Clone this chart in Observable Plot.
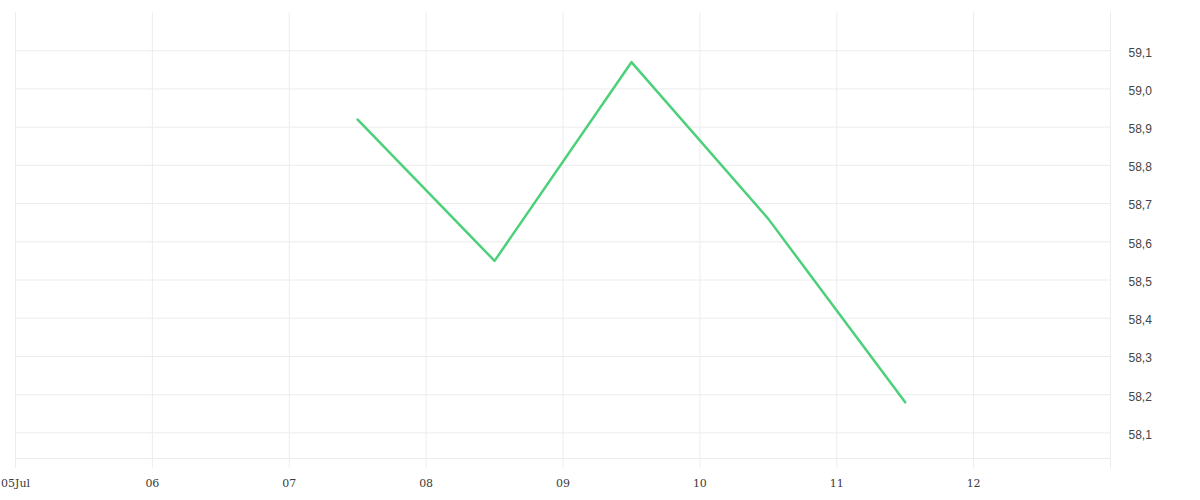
<!DOCTYPE html>
<html>
<head>
<meta charset="utf-8">
<script src="https://cdn.jsdelivr.net/npm/d3@7"></script>
<script src="https://cdn.jsdelivr.net/npm/@observablehq/plot@0.6"></script>
<style>
  html, body { margin: 0; padding: 0; background: #fff; }
  #chart svg { display: block; }
</style>
</head>
<body>
<div id="chart"></div>
<script>
// Data
const dates = ["2023-07-07T12:00Z", "2023-07-08T12:00Z", "2023-07-09T12:00Z", "2023-07-10T12:00Z", "2023-07-11T12:00Z"];
const values = [58.92, 58.55, 59.07, 58.66, 58.18];
const dayTicks = ["2023-07-05", "2023-07-06", "2023-07-07", "2023-07-08", "2023-07-09", "2023-07-10", "2023-07-11", "2023-07-12", "2023-07-13"];
const dayLabels = ["05Jul", "06", "07", "08", "09", "10", "11", "12", ""];
const yTicks = [58.1, 58.2, 58.3, 58.4, 58.5, 58.6, 58.7, 58.8, 58.9, 59.0, 59.1];
const xDomain = ["2023-07-05", "2023-07-13"];
const yDomain = [58.033, 59.2];

const series = dates.map((d, i) => ({date: new Date(d), value: values[i]}));
const days = dayTicks.map((d, i) => ({date: new Date(d), label: dayLabels[i]}));

const grid = "#ececec";

const chart = Plot.plot({
  width: 1200,
  height: 500,
  marginLeft: 15,
  marginRight: 90,
  marginTop: 12,
  marginBottom: 42,
  x: {type: "utc", domain: xDomain.map(d => new Date(d)), axis: null},
  y: {domain: yDomain, axis: null},
  marks: [
    Plot.ruleY(yTicks, {stroke: grid, strokeWidth: 1}),
    Plot.ruleY([yDomain[0]], {stroke: grid, strokeWidth: 1}),
    Plot.ruleX(days, {x: "date", stroke: grid, strokeWidth: 1, insetBottom: -10}),
    Plot.text(days, {
      x: "date", text: "label", frameAnchor: "bottom", dy: 25,
      textAnchor: "middle", lineAnchor: "middle",
      fontFamily: "DejaVu Serif", fontSize: 11, fill: "#3a3a3a"
    }),
    Plot.text(yTicks, {
      y: d => d, text: d => d.toFixed(1).replace(".", ","),
      frameAnchor: "right", dx: 18, dy: 2, textAnchor: "start", lineAnchor: "middle",
      fontFamily: "Liberation Sans", fontSize: 12, fill: "#444"
    }),
    Plot.line(series, {x: "date", y: "value", stroke: "#4cd07a", strokeWidth: 2.5})
  ]
});
document.getElementById("chart").appendChild(chart);
</script>
</body>
</html>
